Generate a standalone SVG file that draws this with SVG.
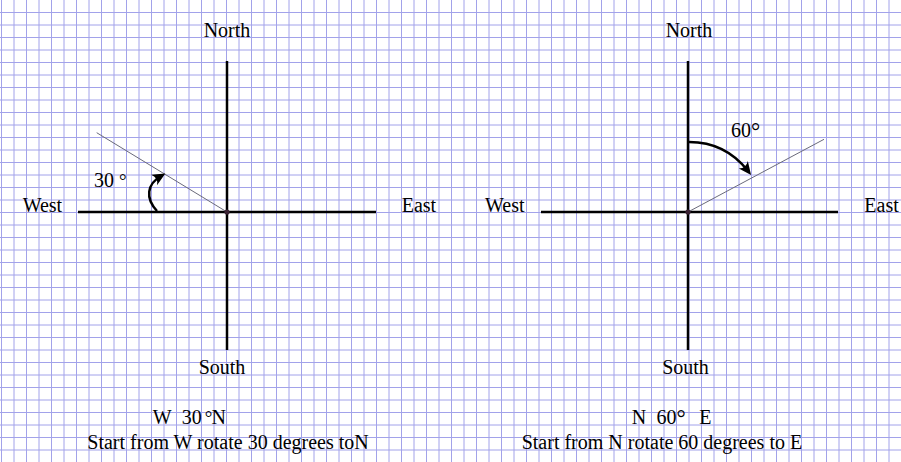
<svg xmlns="http://www.w3.org/2000/svg" width="901" height="462" viewBox="0 0 901 462">
<defs>
<style>
.grid line{stroke:#a2a2ea;stroke-width:1}
.axis{stroke:#000;stroke-width:2.5;fill:none}
.ray{stroke:#6a6a7a;stroke-width:1;fill:none}
.arc{stroke:#000;stroke-width:2.5;fill:none;marker-end:url(#head)}
.dot{fill:#3a2233}
text{font-family:"Liberation Serif","Times New Roman",serif;font-size:20px;fill:#000}
.degs{font-size:19px}
.degb{font-size:23px}
</style>
<marker id="head" viewBox="-10 -7 16 14" refX="0" refY="0" markerWidth="16" markerHeight="14" markerUnits="userSpaceOnUse" orient="auto">
<path d="M5,0 L-8,-6 Q-3,0 -8,6 Z" fill="#000"/>
</marker>
</defs>
<rect width="901" height="462" fill="#fff"/>
<g id="grid" class="grid">
<line x1="1.5" y1="0" x2="1.5" y2="462"/><line x1="14" y1="0" x2="14" y2="462"/><line x1="26.5" y1="0" x2="26.5" y2="462"/><line x1="39" y1="0" x2="39" y2="462"/><line x1="51.5" y1="0" x2="51.5" y2="462"/><line x1="64" y1="0" x2="64" y2="462"/><line x1="76.5" y1="0" x2="76.5" y2="462"/><line x1="89" y1="0" x2="89" y2="462"/><line x1="101.5" y1="0" x2="101.5" y2="462"/><line x1="114" y1="0" x2="114" y2="462"/><line x1="126.5" y1="0" x2="126.5" y2="462"/><line x1="139" y1="0" x2="139" y2="462"/><line x1="151.5" y1="0" x2="151.5" y2="462"/><line x1="164" y1="0" x2="164" y2="462"/><line x1="176.5" y1="0" x2="176.5" y2="462"/><line x1="189" y1="0" x2="189" y2="462"/><line x1="201.5" y1="0" x2="201.5" y2="462"/><line x1="214" y1="0" x2="214" y2="462"/><line x1="226.5" y1="0" x2="226.5" y2="462"/><line x1="239" y1="0" x2="239" y2="462"/><line x1="251.5" y1="0" x2="251.5" y2="462"/><line x1="264" y1="0" x2="264" y2="462"/><line x1="276.5" y1="0" x2="276.5" y2="462"/><line x1="289" y1="0" x2="289" y2="462"/><line x1="301.5" y1="0" x2="301.5" y2="462"/><line x1="314" y1="0" x2="314" y2="462"/><line x1="326.5" y1="0" x2="326.5" y2="462"/><line x1="339" y1="0" x2="339" y2="462"/><line x1="351.5" y1="0" x2="351.5" y2="462"/><line x1="364" y1="0" x2="364" y2="462"/><line x1="376.5" y1="0" x2="376.5" y2="462"/><line x1="389" y1="0" x2="389" y2="462"/><line x1="401.5" y1="0" x2="401.5" y2="462"/><line x1="414" y1="0" x2="414" y2="462"/><line x1="426.5" y1="0" x2="426.5" y2="462"/><line x1="439" y1="0" x2="439" y2="462"/><line x1="451.5" y1="0" x2="451.5" y2="462"/><line x1="464" y1="0" x2="464" y2="462"/><line x1="476.5" y1="0" x2="476.5" y2="462"/><line x1="489" y1="0" x2="489" y2="462"/><line x1="501.5" y1="0" x2="501.5" y2="462"/><line x1="514" y1="0" x2="514" y2="462"/><line x1="526.5" y1="0" x2="526.5" y2="462"/><line x1="539" y1="0" x2="539" y2="462"/><line x1="551.5" y1="0" x2="551.5" y2="462"/><line x1="564" y1="0" x2="564" y2="462"/><line x1="576.5" y1="0" x2="576.5" y2="462"/><line x1="589" y1="0" x2="589" y2="462"/><line x1="601.5" y1="0" x2="601.5" y2="462"/><line x1="614" y1="0" x2="614" y2="462"/><line x1="626.5" y1="0" x2="626.5" y2="462"/><line x1="639" y1="0" x2="639" y2="462"/><line x1="651.5" y1="0" x2="651.5" y2="462"/><line x1="664" y1="0" x2="664" y2="462"/><line x1="676.5" y1="0" x2="676.5" y2="462"/><line x1="689" y1="0" x2="689" y2="462"/><line x1="701.5" y1="0" x2="701.5" y2="462"/><line x1="714" y1="0" x2="714" y2="462"/><line x1="726.5" y1="0" x2="726.5" y2="462"/><line x1="739" y1="0" x2="739" y2="462"/><line x1="751.5" y1="0" x2="751.5" y2="462"/><line x1="764" y1="0" x2="764" y2="462"/><line x1="776.5" y1="0" x2="776.5" y2="462"/><line x1="789" y1="0" x2="789" y2="462"/><line x1="801.5" y1="0" x2="801.5" y2="462"/><line x1="814" y1="0" x2="814" y2="462"/><line x1="826.5" y1="0" x2="826.5" y2="462"/><line x1="839" y1="0" x2="839" y2="462"/><line x1="851.5" y1="0" x2="851.5" y2="462"/><line x1="864" y1="0" x2="864" y2="462"/><line x1="876.5" y1="0" x2="876.5" y2="462"/><line x1="889" y1="0" x2="889" y2="462"/>
<line x1="0" y1="12.5" x2="901" y2="12.5"/><line x1="0" y1="25" x2="901" y2="25"/><line x1="0" y1="37.5" x2="901" y2="37.5"/><line x1="0" y1="50" x2="901" y2="50"/><line x1="0" y1="62.5" x2="901" y2="62.5"/><line x1="0" y1="75" x2="901" y2="75"/><line x1="0" y1="87.5" x2="901" y2="87.5"/><line x1="0" y1="100" x2="901" y2="100"/><line x1="0" y1="112.5" x2="901" y2="112.5"/><line x1="0" y1="125" x2="901" y2="125"/><line x1="0" y1="137.5" x2="901" y2="137.5"/><line x1="0" y1="150" x2="901" y2="150"/><line x1="0" y1="162.5" x2="901" y2="162.5"/><line x1="0" y1="175" x2="901" y2="175"/><line x1="0" y1="187.5" x2="901" y2="187.5"/><line x1="0" y1="200" x2="901" y2="200"/><line x1="0" y1="212.5" x2="901" y2="212.5"/><line x1="0" y1="225" x2="901" y2="225"/><line x1="0" y1="237.5" x2="901" y2="237.5"/><line x1="0" y1="250" x2="901" y2="250"/><line x1="0" y1="262.5" x2="901" y2="262.5"/><line x1="0" y1="275" x2="901" y2="275"/><line x1="0" y1="287.5" x2="901" y2="287.5"/><line x1="0" y1="300" x2="901" y2="300"/><line x1="0" y1="312.5" x2="901" y2="312.5"/><line x1="0" y1="325" x2="901" y2="325"/><line x1="0" y1="337.5" x2="901" y2="337.5"/><line x1="0" y1="350" x2="901" y2="350"/><line x1="0" y1="362.5" x2="901" y2="362.5"/><line x1="0" y1="375" x2="901" y2="375"/><line x1="0" y1="387.5" x2="901" y2="387.5"/><line x1="0" y1="400" x2="901" y2="400"/><line x1="0" y1="412.5" x2="901" y2="412.5"/><line x1="0" y1="425" x2="901" y2="425"/><line x1="0" y1="437.5" x2="901" y2="437.5"/><line x1="0" y1="450" x2="901" y2="450"/>
</g>
<g id="left-compass">
<line class="axis" x1="227" y1="61" x2="227" y2="350"/>
<line class="axis" x1="78" y1="212" x2="376" y2="212"/>
<line class="ray" x1="227" y1="212" x2="96.7" y2="132.7"/>
<circle class="dot" cx="227" cy="212" r="2.6"/>
<text x="227" y="37" text-anchor="middle">North</text>
<text x="222" y="374" text-anchor="middle">South</text>
<text x="22.7" y="212">West</text>
<text x="401.7" y="212">East</text>
<text x="94" y="187">30 <tspan class="degs">°</tspan></text>
</g>
<g id="right-compass">
<line class="axis" x1="688" y1="61" x2="688" y2="350"/>
<line class="axis" x1="541" y1="212" x2="838" y2="212"/>
<line class="ray" x1="688" y1="212" x2="824" y2="139.3"/>
<circle class="dot" cx="688" cy="212" r="2.6"/>
<text x="689" y="37" text-anchor="middle">North</text>
<text x="685.5" y="374" text-anchor="middle">South</text>
<text x="485" y="212">West</text>
<text x="864.3" y="212">East</text>
<text x="731" y="137">60<tspan class="degb" dy="2">°</tspan></text>
</g>
<g id="connectors">
<path class="arc" d="M157,211 C145,198 147,184 161,176"/>
<path class="arc" d="M689,142 C714,142 734,153 748,171"/>
</g>
<g id="captions">
<text y="424"><tspan x="152.7">W</tspan><tspan x="181.7">30</tspan><tspan class="degs" dx="3">°</tspan><tspan x="211.5">N</tspan></text>
<text x="87.3" y="449">Start from W rotate 30 degrees toN</text>
<text y="424"><tspan x="631.7">N</tspan><tspan x="656.5">60</tspan><tspan class="degb" dy="2">°</tspan><tspan x="699.3" dy="-2">E</tspan></text>
<text x="521.7" y="449">Start from N rotate 60 degrees to E</text>
</g>
</svg>
